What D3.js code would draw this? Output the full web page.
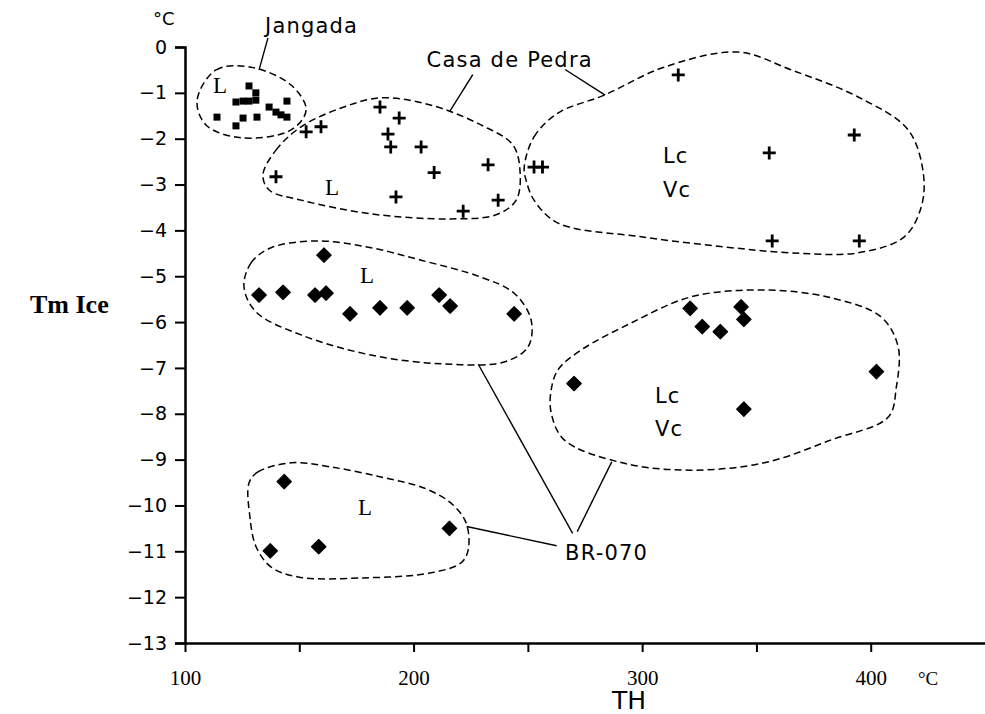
<!DOCTYPE html>
<html>
<head>
<meta charset="utf-8">
<script src="https://cdn.jsdelivr.net/npm/d3@7"></script>
<style>
  body { margin: 0; background: #fff; }
  svg { display: block; }
</style>
</head>
<body>
<svg id="chart" width="985" height="714"></svg>
<script>
// Jangada (squares)
const jangada = [
    [128, -0.85], [131, -1.0], [122.3, -1.2], [125.4, -1.18], [128, -1.18], [131, -1.16],
    [136.8, -1.31], [139.8, -1.42], [142, -1.48], [144.6, -1.53], [144.6, -1.18],
    [114, -1.53], [122.3, -1.72], [125.4, -1.55], [131.5, -1.53]
];
// Casa de Pedra (crosses)
const casaDePedra = [
    [315.8, -0.61], [392.8, -1.92], [355.6, -2.31], [252.7, -2.62], [256.4, -2.62],
    [356.9, -4.23], [395, -4.23],
    [139.8, -2.83], [209, -2.74], [232.6, -2.57], [192.3, -3.27], [237, -3.34], [221.7, -3.58],
    [185.3, -1.31], [193.7, -1.55], [188.8, -1.9], [153, -1.85], [159.5, -1.74], [190, -2.18], [203.3, -2.18]
];
// BR-070 (diamonds)
const br070 = [
    [132.4, -5.41], [142.9, -5.35], [156.9, -5.41], [161.7, -5.37], [160.8, -4.54],
    [172.2, -5.82], [185.3, -5.69], [197.2, -5.69], [211.2, -5.41], [216, -5.65], [244, -5.82],
    [321, -5.7], [343.3, -5.67], [344.5, -5.94], [326.3, -6.1], [334.2, -6.21],
    [270.2, -7.34], [402.5, -7.08], [344.5, -7.9],
    [143.4, -9.48], [137.3, -10.99], [158.5, -10.9], [215.7, -10.5]
];

// hand drawn envelopes round each group (data units)
const envJangada = [[105.3, -1.16], [113.6, -0.5], [128.9, -0.44], [146.4, -0.83], [153, -1.37], [146.4, -1.81], [124.5, -1.98], [109.2, -1.7]];
const envCasaL = [[134.1, -2.79], [139.8, -2.25], [150.8, -1.74], [168.3, -1.33], [185.8, -1.11], [207.7, -1.27], [229.5, -1.7], [243.5, -2.14], [246.6, -2.73], [244.9, -3.34], [236.1, -3.66], [216.4, -3.75], [181.4, -3.64], [150.8, -3.34], [136.8, -3.12]];
const envCasaR = [[248.4, -2.62], [252.7, -1.96], [263.2, -1.44], [283.4, -1.05], [309.6, -0.44], [342, -0.11], [365.2, -0.5], [394.5, -1.09], [416.4, -1.81], [423, -2.75], [422.1, -3.49], [414.7, -4.14], [394.5, -4.49], [365.2, -4.49], [335.9, -4.36], [299.6, -4.14], [263.2, -3.84], [252.7, -3.34], [249.2, -2.9]];
const envBrL = [[125.8, -5.23], [128.9, -4.71], [137.6, -4.38], [158.2, -4.23], [181.4, -4.38], [203.3, -4.65], [229.5, -5.02], [244, -5.37], [251.4, -5.95], [250.1, -6.54], [239.6, -6.87], [212, -6.91], [181.4, -6.72], [150.8, -6.28], [131.1, -5.78]];
const envBrR = [[260.2, -7.48], [263.2, -7.04], [273.3, -6.61], [295.2, -6.02], [321.4, -5.45], [353.4, -5.3], [382.7, -5.47], [404.6, -5.89], [412, -6.54], [411.2, -7.42], [407.7, -8.07], [382.7, -8.57], [353.4, -9.07], [320.6, -9.23], [291.3, -9.07], [265.9, -8.57], [260.2, -7.98]];
const envBrB = [[128, -9.51], [131.9, -9.27], [146.4, -9.07], [163.9, -9.16], [185.8, -9.38], [204.6, -9.62], [216.4, -9.95], [223, -10.38], [223.9, -10.97], [220.8, -11.25], [207.7, -11.47], [178.3, -11.58], [149.5, -11.56], [137.6, -11.34], [131.1, -10.9], [128.4, -10.25]];

// leader lines: label -> envelope
const leaders = [
    [[136.3, 0.2], [132.4, -0.5]],
    [[225.9, -0.6], [215.9, -1.4]],
    [[266.3, -0.49], [283.8, -1.05]],
    [[228.3, -6.92], [269.6, -10.61]],
    [[286.7, -9.05], [271.6, -10.57]],
    [[223.2, -10.46], [262.6, -10.88]]
];
const groupLabels = [
    { t: 'L', x: 112.3, y: -1.0, serif: true },
    { t: 'L', x: 161.3, y: -3.23, serif: true },
    { t: 'L', x: 176.6, y: -5.15, serif: true },
    { t: 'L', x: 175.7, y: -10.21, serif: true },
    { t: 'Lc', x: 309.1, y: -2.53 },
    { t: 'Vc', x: 309.1, y: -3.27 },
    { t: 'Lc', x: 305.6, y: -7.76 },
    { t: 'Vc', x: 305.6, y: -8.48 },
    { t: 'Jangada', x: 135, y: 0.3 },
    { t: 'Casa de Pedra', x: 205.7, y: -0.43 },
    { t: 'BR-070', x: 266.3, y: -11.19 }
];

const yTicks = d3.range(0, -14, -1);
const xTicks = [100, 200, 300, 400];
const xMinor = [150, 250, 350];

const svg = d3.select('#chart');
const x = d3.scaleLinear().domain([100, 450]).range([185, 985]);
const y = d3.scaleLinear().domain([0, -13]).range([47, 643]);

const sans = 'DejaVu Sans, sans-serif';
const serif = 'Liberation Serif, serif';

// axes
const yAxis = svg.append('g')
    .attr('transform', `translate(${x(100)},0)`)
    .call(d3.axisLeft(y).tickValues(yTicks).tickSize(10).tickFormat(d3.format('d')));
yAxis.select('.domain').attr('stroke-width', 2.5);
yAxis.selectAll('.tick line').attr('stroke-width', 2);
yAxis.selectAll('.tick text')
    .attr('x', -18)
    .style('font-family', sans).style('font-size', '19px').attr('fill', '#000');

const xAxis = svg.append('g')
    .attr('transform', `translate(0,${y(-13)})`)
    .call(d3.axisBottom(x).tickValues(xTicks.concat(xMinor)).tickSize(9).tickSizeOuter(0)
        .tickFormat(d => xTicks.includes(d) ? d : ''));
xAxis.select('.domain').attr('stroke-width', 2.5);
xAxis.selectAll('.tick line').attr('stroke-width', 2);
xAxis.selectAll('.tick text')
    .attr('y', 27)
    .style('font-family', serif).style('font-size', '21px').attr('fill', '#000');

// axis titles
svg.append('text').attr('x', 153).attr('y', 25).text('°C')
    .style('font-family', sans).style('font-size', '18px');
svg.append('text').attr('x', 918).attr('y', 685).text('°C')
    .style('font-family', serif).style('font-size', '19px');
svg.append('text').attr('x', 30).attr('y', 313).text('Tm Ice')
    .style('font-family', serif).style('font-size', '26px').style('font-weight', 'bold');
svg.append('text').attr('x', 612).attr('y', 709).text('TH')
    .style('font-family', sans).style('font-size', '25px');

// envelopes
const outline = d3.line().x(d => x(d[0])).y(d => y(d[1])).curve(d3.curveCatmullRomClosed.alpha(0.5));
svg.append('g').selectAll('path')
    .data([envJangada, envCasaL, envCasaR, envBrL, envBrR, envBrB])
    .join('path')
    .attr('d', outline)
    .attr('fill', 'none')
    .attr('stroke', '#000')
    .attr('stroke-width', 1.5)
    .attr('stroke-dasharray', '7,4');

svg.append('g').selectAll('line')
    .data(leaders)
    .join('line')
    .attr('x1', d => x(d[0][0])).attr('y1', d => y(d[0][1]))
    .attr('x2', d => x(d[1][0])).attr('y2', d => y(d[1][1]))
    .attr('stroke', '#000').attr('stroke-width', 1.4);

// markers
svg.append('g').selectAll('rect')
    .data(jangada)
    .join('rect')
    .attr('x', d => x(d[0]) - 3.5).attr('y', d => y(d[1]) - 3.5)
    .attr('width', 7).attr('height', 7)
    .attr('fill', '#000');

svg.append('g').selectAll('path')
    .data(casaDePedra)
    .join('path')
    .attr('d', d => {
        let cx = x(d[0]), cy = y(d[1]), r = 6.5;
        return `M${cx - r},${cy}H${cx + r}M${cx},${cy - r}V${cy + r}`;
    })
    .attr('stroke', '#000').attr('stroke-width', 2.8);

svg.append('g').selectAll('path')
    .data(br070)
    .join('path')
    .attr('d', d => {
        let cx = x(d[0]), cy = y(d[1]), r = 7.2;
        return `M${cx},${cy - r}L${cx + r},${cy}L${cx},${cy + r}L${cx - r},${cy}Z`;
    })
    .attr('fill', '#000').attr('stroke', '#000').attr('stroke-width', 1.2).attr('stroke-linejoin', 'round');

// group labels
svg.append('g').selectAll('text')
    .data(groupLabels)
    .join('text')
    .attr('x', d => x(d.x)).attr('y', d => y(d.y))
    .text(d => d.t)
    .style('font-family', d => d.serif ? serif : sans)
    .style('font-size', d => d.serif ? '23px' : '21px')
    .style('letter-spacing', d => d.serif ? null : '1.2px');
</script>
</body>
</html>
